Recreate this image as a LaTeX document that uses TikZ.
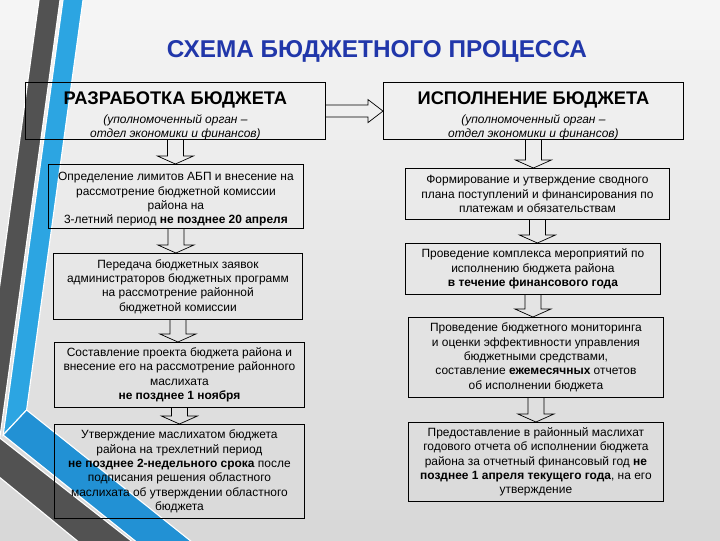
\documentclass[tikz,border=0pt]{standalone}
\usepackage{fontspec}
\setmainfont{Liberation Sans}
\usetikzlibrary{calc}
\definecolor{titleblue}{RGB}{33,55,170}
\definecolor{bardark}{RGB}{82,82,82}
\definecolor{barblue}{RGB}{44,165,226}
\definecolor{bandblue}{RGB}{34,145,212}
\definecolor{bgtop}{RGB}{245,245,245}
\definecolor{bgbot}{RGB}{216,216,216}
\newcommand{\bpx}{0.025cm}
\newcommand{\subfont}{\fontsize{8.5}{10}\selectfont\mdseries\itshape}
\begin{document}
\begin{tikzpicture}[x=0.025cm, y=-0.025cm,
  every node/.style={font=\fontsize{8.5}{10.2}\selectfont, inner sep=0pt},
  box/.style={draw, line width=0.6pt, align=center, anchor=north west},
  hdr/.style={box, font=\fontsize{13}{10}\selectfont\bfseries},
  blkdown/.style={draw, line width=0.5pt, to path={
    ($(\tikztostart)+(-8,0)$) -- ($(\tikztostart|-\tikztotarget)+(-8,-8)$) -- ++(-10,0)
    -- (\tikztostart|-\tikztotarget) -- ++(18,-8) -- ++(-10,0) -- ($(\tikztostart)+(8,0)$)}},
  blkright/.style={draw, line width=0.5pt, to path={
    ($(\tikztostart)+(0,-6)$) -- ($(\tikztostart-|\tikztotarget)+(-15,-6)$) -- ++(0,-5.5)
    -- (\tikztostart-|\tikztotarget) -- ++(-15,11.5) -- ++(0,-5.5) -- ($(\tikztostart)+(0,6)$)}}]
\useasboundingbox (0,0) rectangle (720,540);
% background and side bars
\begin{scope}
  \clip (0,0) rectangle (720,540);
  \foreach \i in {0,...,53} {
    \pgfmathtruncatemacro{\pct}{100-\i*100/53}
    \fill[bgtop!\pct!bgbot] (0,\i*10) rectangle (720,\i*10+10.6);
  }
  \fill[bardark, draw=white, line width=0.8pt] (39.7,-5) -- (60.7,-5) -- (-0.2,438) -- (155.7,560) -- (100.7,560) -- (-24,458) -- cycle;
  \fill[barblue, draw=white, line width=0.8pt] (63.7,-5) -- (83.7,-5) -- (26.6,410) -- (3.2,435) -- cycle;
  \fill[bandblue, draw=white, line width=0.8pt] (26.6,410) -- (214.5,560) -- (159,560) -- (3.2,435) -- cycle;
\end{scope}
\node[font=\fontsize{17.3}{20}\selectfont\bfseries, text=titleblue] (title) at (377,51) {СХЕМА БЮДЖЕТНОГО ПРОЦЕССА};
% headers
\node[hdr, minimum width=300*\bpx, minimum height=57*\bpx] (H1) at (25,82) {\rule{0pt}{16pt}РАЗРАБОТКА БЮДЖЕТА\\[3pt]
  {\subfont (уполномоченный орган –}\\ {\subfont отдел экономики и финансов)}};
\node[hdr, minimum width=300*\bpx, minimum height=57*\bpx] (H2) at (383,82) {\rule{0pt}{16pt}ИСПОЛНЕНИЕ БЮДЖЕТА\\[3pt]
  {\subfont (уполномоченный орган –}\\ {\subfont отдел экономики и финансов)}};
% left column
\node[box, minimum width=255*\bpx, minimum height=64*\bpx] (L1) at (48,164) {\rule{0pt}{10pt}Определение лимитов АБП и внесение на\\ рассмотрение бюджетной комиссии\\ района на\\ 3-летний период \textbf{не позднее 20 апреля}};
\node[box, minimum width=249*\bpx, minimum height=66*\bpx] (L2) at (53,253) {Передача бюджетных заявок\\ администраторов бюджетных программ\\ на рассмотрение районной\\ бюджетной комиссии};
\node[box, minimum width=250*\bpx, minimum height=65*\bpx] (L3) at (54,342) {Составление проекта бюджета района и\\ внесение его на рассмотрение районного\\ маслихата\\ \textbf{не позднее 1 ноября}};
\node[box, minimum width=250*\bpx, minimum height=94*\bpx] (L4) at (54,424) {Утверждение маслихатом бюджета\\ района на трехлетний период\\ \textbf{не позднее 2-недельного срока} после\\ подписания решения областного\\ маслихата об утверждении областного\\ бюджета};
% right column
\node[box, minimum width=264*\bpx, minimum height=51*\bpx] (R1) at (405,168) {Формирование и утверждение сводного\\ плана поступлений и финансирования по\\ платежам и обязательствам};
\node[box, minimum width=255*\bpx, minimum height=51*\bpx] (R2) at (405,243) {Проведение комплекса мероприятий по\\ исполнению бюджета района\\ \textbf{в течение финансового года}};
\node[box, minimum width=255*\bpx, minimum height=80*\bpx] (R3) at (408,317) {Проведение бюджетного мониторинга\\ и оценки эффективности управления\\ бюджетными средствами,\\ составление \textbf{ежемесячных} отчетов\\ об исполнении бюджета};
\node[box, minimum width=255*\bpx, minimum height=79*\bpx] (R4) at (408,422) {Предоставление в районный маслихат\\ годового отчета об исполнении бюджета\\ района за отчетный финансовый год \textbf{не}\\ \textbf{позднее 1 апреля текущего года}, на его\\ утверждение};
% block arrows
\draw[blkright] (H1.east) to (H2.west);
\draw[blkdown] (H1.south) to (L1.north);
\draw[blkdown] (L1.south) to (L2.north);
\draw[blkdown] (L2.south) to (L3.north);
\draw[blkdown] (L3.south) to (L4.north);
\draw[blkdown] (H2.south) to (R1.north);
\draw[blkdown] (R1.south) to (R2.north);
\draw[blkdown] (R2.south) to (R3.north);
\draw[blkdown] (R3.south) to (R4.north);
\end{tikzpicture}
\end{document}
